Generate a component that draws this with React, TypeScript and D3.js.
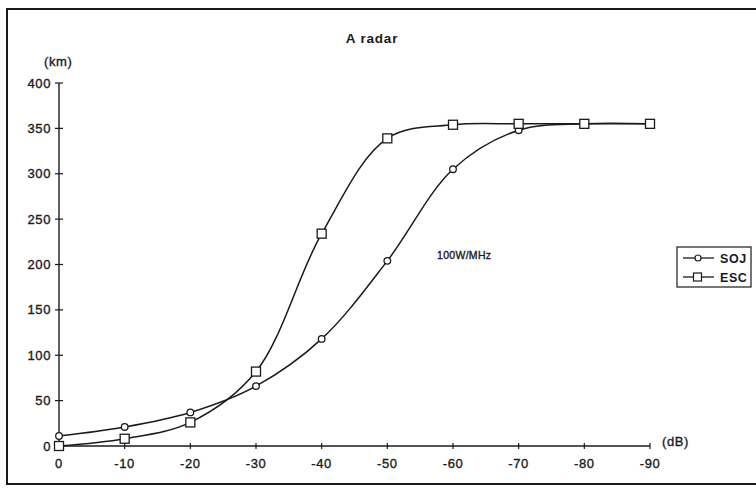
import React from 'react'
import * as d3 from 'd3'

// dB levels (x) and ranges in km for both series
const dbLevels = [0, -10, -20, -30, -40, -50, -60, -70, -80, -90]
const sojKm = [11, 21, 37, 66, 118, 204, 305, 348, 355, 355]
const escKm = [0, 8, 26, 82, 234, 339, 354, 355, 355, 355]
const yTicks = [0, 50, 100, 150, 200, 250, 300, 350, 400]
const seriesNames = ['SOJ', 'ESC']

const width = 756
const height = 488
const font = "'Liberation Sans', Arial, sans-serif"

const App = () => {
    const xScale = d3.scaleLinear().domain([0, -90]).range([59, 650])
    const yScale = d3.scaleLinear().domain([0, 400]).range([446, 83])

    const line = d3.line<number>()
        .x((d, i) => xScale(dbLevels[i]))
        .y((d) => yScale(d))
        .curve(d3.curveCatmullRom.alpha(0.5))

    const ink = '#1a1a1a'
    // scanned text looks a bit heavier than plain regular
    const txt = { stroke: ink, strokeWidth: 0.35, letterSpacing: 0.6 }

    return (
        <svg width={width} height={height} style={{ position: 'absolute', left: 0, top: 0 }}
            fontFamily={font} fill={ink}>
            <rect x={0} y={0} width={width} height={height} fill="#fff" />
            {/* frame */}
            <rect x={7} y={9} width={760} height={475} fill="none" stroke={ink} strokeWidth={2} />

            <text x={372} y={43} textAnchor="middle" fontSize={13.5} fontWeight="bold" letterSpacing={0.8}>A radar</text>
            <text x={44} y={66} fontSize={13} {...txt}>(km)</text>
            <text x={662} y={446} fontSize={13} {...txt}>(dB)</text>
            <text x={437} y={259} fontSize={10.5} {...txt} letterSpacing={0.3}>100W/MHz</text>

            {/* y axis */}
            <line x1={59} x2={59} y1={yScale(400)} y2={yScale(0)} stroke={ink} strokeWidth={1.4} />
            {yTicks.map((t) => (
                <g key={t}>
                    <line x1={55} x2={63} y1={yScale(t)} y2={yScale(t)} stroke={ink} strokeWidth={1.2} />
                    <text x={51} y={yScale(t) + 4.5} textAnchor="end" fontSize={13} {...txt}>{t}</text>
                </g>
            ))}

            {/* x axis */}
            <line x1={xScale(0)} x2={xScale(-90)} y1={446} y2={446} stroke={ink} strokeWidth={1.4} />
            {dbLevels.map((t) => (
                <g key={t}>
                    <line x1={xScale(t)} x2={xScale(t)} y1={443} y2={449} stroke={ink} strokeWidth={1.2} />
                    <text x={xScale(t)} y={468} textAnchor="middle" fontSize={13} {...txt}>{t === 0 ? '0' : '-' + Math.abs(t)}</text>
                </g>
            ))}

            {/* series */}
            <path d={line(sojKm) || ''} fill="none" stroke={ink} strokeWidth={1.5} />
            <path d={line(escKm) || ''} fill="none" stroke={ink} strokeWidth={1.5} />
            {sojKm.map((v, i) => (
                <circle key={'s' + i} cx={xScale(dbLevels[i])} cy={yScale(v)} r={3.3}
                    fill="#fff" stroke={ink} strokeWidth={1.3} />
            ))}
            {escKm.map((v, i) => (
                <rect key={'e' + i} x={xScale(dbLevels[i]) - 4.5} y={yScale(v) - 4.5} width={9} height={9}
                    fill="#fff" stroke={ink} strokeWidth={1.3} />
            ))}

            {/* legend */}
            <rect x={677} y={247} width={74} height={40} fill="#fff" stroke={ink} strokeWidth={1.2} />
            {seriesNames.map((name, i) => {
                const cy = 258 + i * 19
                return (
                    <g key={name}>
                        <line x1={683} x2={714} y1={cy} y2={cy} stroke={ink} strokeWidth={1.3} />
                        {i === 0
                            ? <circle cx={698} cy={cy} r={3} fill="#fff" stroke={ink} strokeWidth={1.2} />
                            : <rect x={693.5} y={cy - 4} width={8} height={8} fill="#fff" stroke={ink} strokeWidth={1.2} />}
                        <text x={720} y={cy + 4.5} fontSize={12.5} fontWeight="bold" letterSpacing={0.6}>{name}</text>
                    </g>
                )
            })}
        </svg>
    )
}

export default App
